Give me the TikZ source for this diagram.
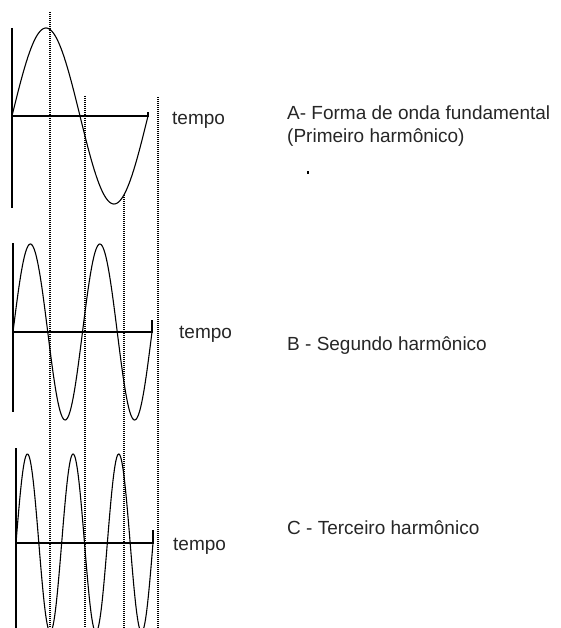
\documentclass[tikz,border=0pt]{standalone}
\usepackage{fontspec}
\setmainfont{Liberation Sans}
\usetikzlibrary{positioning}

\begin{document}
\begin{tikzpicture}[x=1pt, y=-1pt,
  asse/.style={line width=1.4pt},
  onda/.style={line width=1.1pt},
  griglia/.style={line width=1.1pt, dash pattern=on 1pt off 1pt},
  testo/.style={anchor=base west, inner sep=0pt, text=black!85, font=\fontsize{19}{23}\selectfont}]
  \def\ampA{88}   % <-- ampiezza
  \def\ampC{89}

  \useasboundingbox (0,0) rectangle (560,628);
  \clip (0,0) rectangle (560,628);

  % linee verticali punteggiate
  \draw[griglia] (50,12) -- (50,628);
  \draw[griglia] (85,96) -- (85,628);
  \draw[griglia] (124,195) -- (124,628);
  \draw[griglia] (158,97) -- (158,628);

  % A: fondamentale
  \draw[asse] (12,28) -- (12,208);
  \draw[asse] (12,116) -- (148,116) -- (148,112);
  \draw[onda] plot[domain=0:136, samples=120] ({12+\x},{116-\ampA*sin((360/136)*\x)});

  % B: secondo armonico
  \draw[asse] (13,243) -- (13,412);
  \draw[asse] (13,332) -- (152,332) -- (152,320);
  \draw[onda] plot[domain=0:139, samples=160] ({13+\x},{332-\ampA*sin((720/139)*\x)});

  % C: terzo armonico
  \draw[asse] (16,448) -- (16,628);
  \draw[asse] (16,543) -- (153,543) -- (153,530);
  \draw[onda] plot[domain=0:137, samples=200] ({16+\x},{543-\ampC*sin((1080/137)*\x)});

  % etichette
  \node[testo] (tempoA) at (172,125) {tempo};
  \node[testo] (titA) at (287,120) {A- Forma de onda fundamental};
  \node[testo] (subA) at (287,143) {(Primeiro harmônico)};
  \fill (307,171) rectangle (309,174); % punto

  \node[testo] (tempoB) at (179,338) {tempo};
  \node[testo] (titB) at (287,350) {B - Segundo harmônico};

  \node[testo] (tempoC) at (173,550) {tempo};
  \node[testo] (titC) at (287,534) {C - Terceiro harmônico};
\end{tikzpicture}
\end{document}
